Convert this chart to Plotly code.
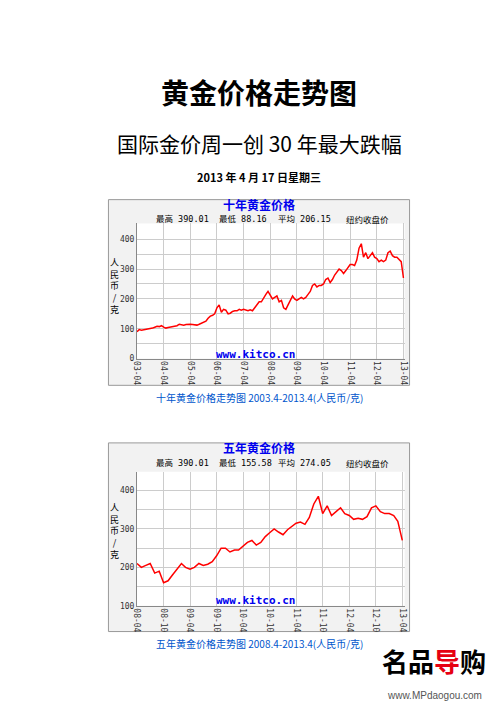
import pandas as pd
import plotly.graph_objects as go

# monthly closes (CNY per gram)
ten_year = [90, 97, 95, 96, 98, 100, 100, 102, 105,
            108, 107, 110, 105, 102, 104, 106, 106, 108, 110, 115, 113,
            112, 114, 115, 115, 114, 114, 112, 115, 118, 120, 125, 135,
            142, 145, 150, 170, 180, 155, 165, 162, 150, 152, 158, 160,
            160, 165, 162, 165, 162, 160, 163, 160, 170, 180, 190, 190,
            205, 215, 225, 210, 200, 205, 210, 190, 195, 170, 165, 180,
            195, 210, 200, 195, 200, 205, 200, 205, 215, 225, 245, 250,
            240, 245, 245, 250, 265, 270, 255, 265, 280, 290, 300, 295,
            285, 295, 305, 315, 315, 312, 330, 370, 385, 340, 355, 335,
            345, 355, 340, 335, 325, 330, 325, 330, 355, 360, 345, 340,
            340, 330, 325, 270]
five_year = [210, 200, 205, 210, 185, 190, 160, 165, 180,
             195, 210, 200, 195, 200, 210, 205, 208, 215, 230, 250, 250,
             240, 245, 245, 255, 265, 270, 258, 265, 280, 290, 300, 292,
             285, 298, 305, 315, 318, 312, 330, 365, 385, 340, 360, 335,
             345, 355, 340, 335, 325, 328, 325, 332, 355, 360, 345, 340,
             340, 335, 320, 270]
ten_dates = pd.date_range("2003-04-01", periods=len(ten_year), freq="MS")
five_dates = pd.date_range("2008-04-01", periods=len(five_year), freq="MS")
ten_ticks = [0, 50, 100, 150, 200, 250, 300, 350, 400, 450]
five_ticks = [100, 150, 200, 250, 300, 350, 400, 450]

W, H = 500, 707
def px(x): return x / W
def py(y): return 1 - y / H

fig = go.Figure()
fig.add_trace(go.Scatter(x=ten_dates, y=ten_year, mode="lines",
                         line=dict(color="#ff0000", width=1.5), xaxis="x", yaxis="y"))
fig.add_trace(go.Scatter(x=five_dates, y=five_year, mode="lines",
                         line=dict(color="#ff0000", width=1.5), xaxis="x2", yaxis="y2"))

axfont = dict(family="DejaVu Sans Mono", size=8, color="#333")
common_x = dict(showgrid=True, gridcolor="#cccccc", tickangle=90, tickfont=axfont,
                ticks="", showline=True, linecolor="#888", zeroline=False, tickformat="%y-%m")
common_y = dict(showgrid=True, gridcolor="#cccccc", tickfont=axfont, ticks="",
                showline=True, linecolor="#888", zeroline=False)

def labels(vals):
    return [str(v) if v % 100 == 0 else "" for v in vals]

fig.update_layout(
    width=W, height=H, margin=dict(l=0, r=0, t=0, b=0),
    paper_bgcolor="white", plot_bgcolor="white", showlegend=False,
    xaxis=dict(common_x, domain=[px(126), px(398)], anchor="y",
               range=["2003-04-01", "2013-04-17"], dtick="M12", tick0="2003-04-01"),
    yaxis=dict(common_y, domain=[py(353), py(217)], anchor="x", range=[0, 453],
               tickvals=ten_ticks, ticktext=labels(ten_ticks)),
    xaxis2=dict(common_x, domain=[px(126), px(398)], anchor="y2",
                range=["2008-04-01", "2013-04-17"], dtick="M6", tick0="2008-04-01"),
    yaxis2=dict(common_y, domain=[py(602), py(467)], anchor="x2", range=[100, 449],
                tickvals=five_ticks, ticktext=labels(five_ticks)),
)

# chart frames
for top, bottom, ptop, pbot in [(193, 380, 217, 353), (438, 628, 467, 602)]:
    fig.add_shape(type="rect", xref="paper", yref="paper", layer="below",
                  x0=px(97), x1=px(403), y0=py(bottom), y1=py(top),
                  line=dict(color="#999", width=1), fillcolor="#f2f2f2")
    fig.add_shape(type="rect", xref="paper", yref="paper", layer="below",
                  x0=px(126), x1=px(398), y0=py(pbot), y1=py(ptop),
                  line=dict(width=0), fillcolor="white")

cjk = "Noto Sans CJK SC"
def txt(x, y, s, size, color="black", family=cjk, bold=False, xanchor="center"):
    if bold:
        s = "<b>" + s + "</b>"
    fig.add_annotation(x=px(x), y=py(y), xref="paper", yref="paper", text=s,
                       showarrow=False, xanchor=xanchor, yanchor="middle",
                       font=dict(size=size, color=color, family=family))

txt(250, 85, "黄金价格走势图", 28, bold=True)
txt(250, 136, "国际金价周一创 30 年最大跌幅", 21)
txt(250, 170, "2013 年 4 月 17 日星期三", 11, bold=True)

mono = "DejaVu Sans Mono, " + cjk
for top, title, hi, lo, avg in [(193, "十年黄金价格", "390.01", "88.16", "206.15"),
                                (438, "五年黄金价格", "390.01", "155.58", "274.05")]:
    txt(250, top + 5, title, 12, color="#0000ee", bold=True)
    txt(143, top + 20, "最高 " + hi, 8.5, xanchor="left", family=mono)
    txt(207, top + 20, "最低 " + lo, 8.5, xanchor="left", family=mono)
    txt(267, top + 20, "平均 " + avg, 8.5, xanchor="left", family=mono)
    txt(360, top + 20, "纽约收盘价", 8.5)
txt(246, 349, "www.kitco.cn", 11, color="#0000ee", family="DejaVu Sans Mono", bold=True)
txt(246, 597, "www.kitco.cn", 11, color="#0000ee", family="DejaVu Sans Mono", bold=True)
for yy in (280, 527):
    txt(103, yy, "人<br>民<br>币<br>/<br>克", 9)

txt(250, 392, "十年黄金价格走势图 2003.4-2013.4(人民币/克)", 10, color="#0055cc")
txt(250, 640, "五年黄金价格走势图 2008.4-2013.4(人民币/克)", 10, color="#0055cc")

txt(428, 657, "名品<span style='color:#e60012'>导</span>购", 26, bold=True)
txt(428, 692, "www.MPdaogou.com", 10, color="#555", family="Liberation Sans")

fig.write_html("out.html")
